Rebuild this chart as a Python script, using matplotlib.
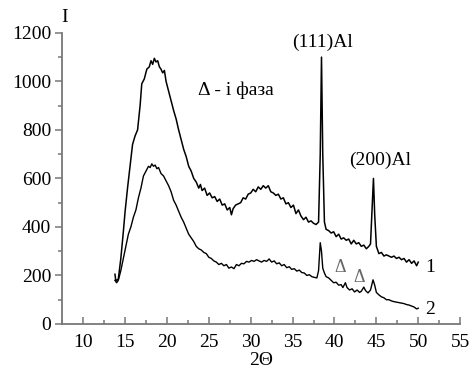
import matplotlib.pyplot as plt
from matplotlib.ticker import MultipleLocator

plt.rcParams['font.family'] = ['Liberation Serif', 'DejaVu Serif']

# curve 1 (upper pattern)
x1 = [13.8, 13.9, 14.2, 14.5, 14.8, 15.0, 15.3, 15.6, 15.9, 16.2, 16.5, 16.8, 17.0, 17.3,
      17.6, 17.9, 18.1, 18.3, 18.5, 18.7, 18.9, 19.1, 19.3, 19.5, 19.7, 19.9, 20.2, 20.5,
      20.8, 21.1, 21.4, 21.7, 22.0, 22.3, 22.6, 22.9, 23.2, 23.5, 23.8, 24.0, 24.2, 24.5,
      24.8, 25.1, 25.4, 25.7, 26.0, 26.3, 26.6, 26.9, 27.2, 27.5, 27.7, 27.9, 28.2, 28.5,
      28.8, 29.1, 29.4, 29.7, 30.0, 30.3, 30.6, 30.9, 31.2, 31.5, 31.8, 32.1, 32.4, 32.7,
      33.0, 33.3, 33.6, 33.9, 34.2, 34.5, 34.8, 35.1, 35.4, 35.7, 36.0, 36.3, 36.6, 36.9,
      37.2, 37.5, 37.8, 38.1, 38.3, 38.45, 38.6, 38.8, 39.0, 39.3, 39.6, 39.9, 40.2, 40.5,
      40.8, 41.1, 41.4, 41.7, 42.0, 42.3, 42.6, 42.9, 43.2, 43.5, 43.8, 44.1, 44.3, 44.5,
      44.65, 44.8, 45.0, 45.3, 45.6, 45.9, 46.2, 46.5, 46.8, 47.1, 47.4, 47.7, 48.0, 48.3,
      48.6, 48.9, 49.2, 49.5, 49.8, 50.0]
y1 = [205, 178, 185, 270, 380, 460, 560, 650, 740, 775, 800, 900, 990, 1010,
      1050, 1060, 1085, 1070, 1095, 1080, 1085, 1060, 1050, 1035, 1045, 1000, 960, 920,
      880, 845, 800, 760, 720, 690, 650, 630, 600, 585, 560, 575, 550, 560,
      530, 540, 520, 525, 505, 515, 490, 495, 470, 480, 450, 475, 490, 495,
      500, 520, 515, 535, 540, 555, 545, 565, 555, 570, 560, 570, 545, 540,
      530, 535, 515, 520, 495, 500, 480, 490, 455, 470, 445, 430, 440, 420,
      425, 415, 410, 420, 700, 1100, 700, 420, 390, 385, 375, 380, 360, 370,
      350, 355, 345, 350, 330, 345, 330, 335, 320, 325, 310, 320, 330, 480,
      600, 450, 320, 290, 295, 280, 285, 280, 275, 280, 270, 275, 265, 270,
      255, 265, 250, 260, 240, 255]

# curve 2 (lower pattern)
x2 = [13.8, 14.0, 14.2, 14.5, 14.8, 15.1, 15.4, 15.7, 16.0, 16.3, 16.6, 16.9, 17.2, 17.5,
      17.8, 18.0, 18.2, 18.4, 18.6, 18.8, 19.0, 19.3, 19.6, 19.9, 20.2, 20.5, 20.8, 21.1,
      21.4, 21.7, 22.0, 22.3, 22.6, 22.9, 23.2, 23.5, 23.8, 24.1, 24.4, 24.7, 25.0, 25.3,
      25.6, 25.9, 26.2, 26.5, 26.8, 27.1, 27.4, 27.7, 28.0, 28.3, 28.6, 28.9, 29.2, 29.5,
      29.8, 30.1, 30.4, 30.7, 31.0, 31.3, 31.6, 31.9, 32.2, 32.5, 32.8, 33.1, 33.4, 33.7,
      34.0, 34.3, 34.6, 34.9, 35.2, 35.5, 35.8, 36.1, 36.4, 36.7, 37.0, 37.3, 37.6, 37.9,
      38.1, 38.3, 38.45, 38.6, 38.8, 39.0, 39.3, 39.6, 39.9, 40.2, 40.5, 40.8, 41.0, 41.3,
      41.5, 41.8, 42.1, 42.4, 42.7, 43.0, 43.2, 43.5, 43.7, 44.0, 44.3, 44.6, 44.8, 45.0,
      45.3, 45.6, 45.9, 46.2, 46.5, 46.8, 47.1, 47.4, 47.7, 48.0, 48.3, 48.6, 48.9, 49.2,
      49.5, 49.8, 50.0]
y2 = [180, 170, 180, 220, 270, 320, 370, 400, 440, 470, 520, 560, 610, 630,
      650, 645, 660, 650, 655, 640, 645, 620, 610, 590, 570, 545, 510, 490,
      465, 440, 420, 395, 370, 355, 340, 320, 310, 305, 295, 290, 275, 270,
      260, 255, 245, 250, 240, 245, 230, 235, 228, 245, 240, 250, 248, 258,
      255, 262, 258, 265, 260, 255, 262, 258, 268, 255, 260, 248, 252, 240,
      245, 232, 236, 225, 228, 218, 222, 212, 210, 200, 203, 195, 192, 190,
      220, 335, 300, 230, 210, 195, 190, 180, 170, 172, 160, 162, 150, 170,
      150, 140, 145, 132, 140, 130, 135, 152, 138, 128, 140, 182, 160, 130,
      120, 112, 108, 100, 100, 95, 92, 90, 88, 86, 84, 80, 78, 74,
      70, 62, 65]

x_ticks = [10, 15, 20, 25, 30, 35, 40, 45, 50, 55]
y_ticks = [0, 200, 400, 600, 800, 1000, 1200]

fig = plt.figure(figsize=(4.71, 3.69), dpi=100)
ax = fig.add_axes([0.132, 0.122, 0.845, 0.789])

ax.plot(x1, y1, color='black', lw=1.1)
ax.plot(x2, y2, color='black', lw=1.0)

ax.set_xlim(7.5, 55)
ax.set_ylim(0, 1200)
ax.set_xticks(x_ticks)
ax.set_yticks(y_ticks)
ax.xaxis.set_minor_locator(MultipleLocator(2.5))
ax.yaxis.set_minor_locator(MultipleLocator(100))

for s in ['top', 'right']:
    ax.spines[s].set_visible(False)
for s in ['left', 'bottom']:
    ax.spines[s].set_color('#777777')
    ax.spines[s].set_linewidth(1.3)

ax.tick_params(axis='x', which='both', direction='in', color='#777777', labelsize=14, pad=7)
ax.tick_params(axis='x', which='major', length=5, width=1.1)
ax.tick_params(axis='x', which='minor', length=3, width=1.1)
ax.tick_params(axis='y', which='both', direction='out', color='#777777', labelsize=14, pad=3)
ax.tick_params(axis='y', which='major', length=5, width=1.1)
ax.tick_params(axis='y', which='minor', length=3, width=1.1)

ax.set_xlabel('2Θ', fontsize=14, labelpad=1)
ax.text(7.8, 1230, 'I', fontsize=14, ha='center', va='bottom')

ax.text(38.6, 1160, '(111)Al', fontsize=14, ha='center', va='center')
ax.text(45.4, 676, '(200)Al', fontsize=14, ha='center', va='center')
ax.text(23.7, 965, 'Δ - і фаза', fontsize=14, ha='left', va='center')
ax.text(40.7, 231, 'Δ', fontsize=13, ha='center', va='center', color='#666666')
ax.text(43.0, 190, 'Δ', fontsize=13, ha='center', va='center', color='#666666')
ax.text(51.4, 231, '1', fontsize=14, ha='center', va='center')
ax.text(51.4, 58, '2', fontsize=14, ha='center', va='center')

fig.savefig('out.png', dpi=100)
